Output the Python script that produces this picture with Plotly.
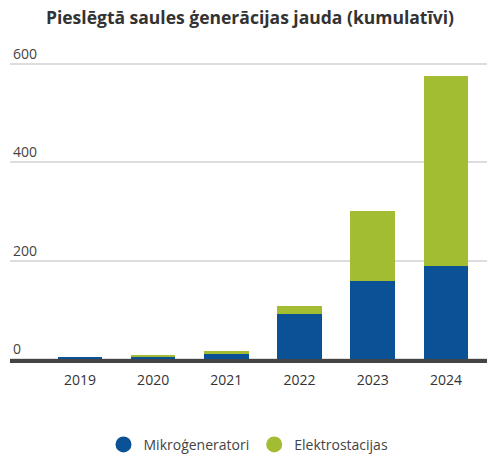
import plotly.graph_objects as go

years = ["2019", "2020", "2021", "2022", "2023", "2024"]
mikro = [4, 3.5, 12, 91, 158, 190]
elektro = [0, 4.5, 4, 17, 144, 386]
yticks = [0, 200, 400, 600]

BLUE = "#0a5195"
GREEN = "#a3bd33"

fig = go.Figure()
fig.add_trace(go.Bar(x=years, y=mikro, name="Mikroģeneratori", marker=dict(color=BLUE, line=dict(width=0)), showlegend=False))
fig.add_trace(go.Bar(x=years, y=elektro, name="Elektrostacijas", marker=dict(color=GREEN, line=dict(width=0)), showlegend=False))
for name, col in [("Mikroģeneratori", BLUE), ("Elektrostacijas", GREEN)]:
    fig.add_trace(go.Scatter(x=[None], y=[None], mode="markers", name=name,
                             marker=dict(symbol="circle", size=18, color=col)))

# dark baseline just below zero
fig.add_shape(type="line", xref="paper", x0=0, x1=1, yref="y", y0=-4.2, y1=-4.2,
              line=dict(color="#444444", width=4), layer="above")

fig.update_layout(
    width=500, height=460,
    barmode="stack", bargap=0.39,
    paper_bgcolor="white", plot_bgcolor="white",
    font=dict(family="Open Sans", color="#333333", size=14),
    title=dict(text="<b>Pieslēgtā saules ģenerācijas jauda (kumulatīvi)</b>",
               x=0.5, xanchor="center", y=0.961, yanchor="middle",
               font=dict(size=17.5, color="#333333")),
    margin=dict(l=10, r=13, t=40, b=96, autoexpand=False),
    xaxis=dict(type="category", range=[-0.955, 5.56], showgrid=False, showline=False,
               ticks="", tickfont=dict(size=14, color="#333333"), ticklabelstandoff=6,
               automargin=False),
    yaxis=dict(range=[-10.2, 648.8], tickvals=yticks, showgrid=True, gridcolor="#dddddd",
               gridwidth=2, zeroline=False, ticklabelposition="inside top",
               tickfont=dict(size=14, color="#444444"), showline=False, automargin=False),
    legend=dict(orientation="h", x=0.5, xanchor="center", y=-0.2, yanchor="top",
                traceorder="normal",
                font=dict(size=14, color="#444444"), itemwidth=30),
)

fig.write_html("out.html", config={"displayModeBar": False},
               post_script="document.body.style.margin='0';document.body.style.overflow='hidden';")
